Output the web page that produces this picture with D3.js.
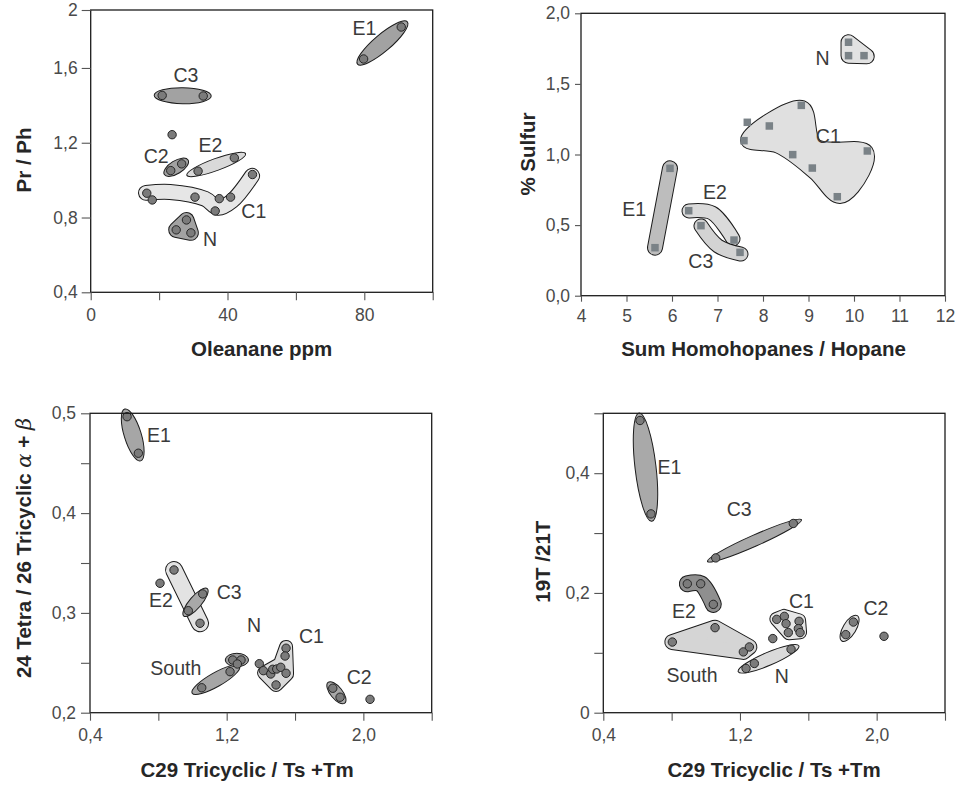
<!DOCTYPE html>
<html><head><meta charset="utf-8">
<script src="https://cdn.jsdelivr.net/npm/d3@7/dist/d3.min.js"></script>
<style>
html,body{margin:0;padding:0;background:#fff;}
svg{display:block;}
</style></head>
<body>
<svg id="chart" width="959" height="786"></svg>
<script>
// ---------- Panel 1: Pr/Ph vs Oleanane ppm ----------
const p1Points = [
  [79.8,1.648,"E1"],[90.8,1.819,"E1"],
  [20.9,1.453,"C3"],[32.9,1.450,"C3"],
  [23.8,1.243,""],
  [23.4,1.051,"C2"],[26.6,1.087,"C2"],
  [31.4,1.048,"E2"],[42.0,1.119,"E2"],
  [16.4,0.930,"C1"],[18.0,0.894,"C1"],[30.5,0.909,"C1"],[37.6,0.901,"C1"],
  [40.9,0.909,"C1"],[36.4,0.835,"C1"],[47.3,1.030,"C1"],
  [28.0,0.787,"N"],[25.0,0.734,"N"],[29.3,0.718,"N"]
];
const p1Envelopes = [
  {g:"E1", kind:"ellipse", path:[[79.8,1.648],[90.8,1.819]]},
  {g:"C3", kind:"ellipse", path:[[20.9,1.453],[32.9,1.450]]},
  {g:"C2", kind:"ellipse", path:[[23.4,1.051],[26.6,1.087]]},
  {g:"E2", kind:"ellipse", path:[[31.4,1.048],[42.0,1.119]]},
  {g:"C1", kind:"band", smooth:true, path:[[16.18,0.932],[23.2,0.937],[33.45,0.900],[37.25,0.852],[41.35,0.889],[47.19,1.023]]},
  {g:"N",  kind:"blob", path:[[28.0,0.787],[25.0,0.734],[29.3,0.718]]}
];
const p1Labels = [
  {t:"E1",x:80.03,y:1.778},{t:"C3",x:27.83,y:1.523},{t:"E2",x:35.0,y:1.153},
  {t:"C2",x:19.17,y:1.091},{t:"C1",x:47.7,y:0.796},{t:"N",x:34.91,y:0.648}
];
const p1XTicks = [0,20,40,60,80,100];
const p1XTickLabels = ["0","","40","","80",""];
const p1YTicks = [0.4,0.8,1.2,1.6,1.91];
const p1YTickLabels = ["0,4","0,8","1,2","1,6","2"];

// ---------- Panel 2: % Sulfur vs Sum Homohopanes / Hopane ----------
const p2Points = [
  [9.88,1.795,"N"],[9.88,1.700,"N"],[10.22,1.700,"N"],
  [7.655,1.228,""],[8.139,1.202,"C1"],[8.842,1.348,"C1"],[7.582,1.098,"C1"],
  [8.653,0.999,"C1"],[9.084,0.904,"C1"],[9.633,0.701,"C1"],[10.293,1.025,"C1"],
  [5.956,0.902,"E1"],[5.626,0.340,"E1"],
  [6.367,0.602,"E2"],[7.363,0.394,"E2"],
  [6.637,0.496,"C3"],[7.495,0.307,"C3"]
];
const p2Envelopes = [
  {g:"N",  kind:"blob", path:[[9.88,1.795],[9.88,1.70],[10.28,1.695]]},
  {g:"C1", kind:"blob", smooth:true, path:[[7.67,1.103],[8.857,1.329],[9.143,1.060],[10.26,1.018],[10.18,0.876],[9.69,0.706],[9.14,0.876],[8.35,1.060]]},
  {g:"E1", kind:"band", path:[[5.956,0.902],[5.626,0.340]]},
  {g:"E2", kind:"band", smooth:true, path:[[6.374,0.600],[6.879,0.586],[7.341,0.402]]},
  {g:"C3", kind:"band", smooth:true, path:[[6.637,0.494],[7.011,0.352],[7.516,0.295]]}
];
const p2Labels = [
  {t:"N",x:9.308,y:1.634},{t:"C1",x:9.435,y:1.079},{t:"E1",x:5.169,y:0.564},
  {t:"E2",x:6.945,y:0.685},{t:"C3",x:6.633,y:0.198}
];
const p2XTicks = [4,5,6,7,8,9,10,11,12];
const p2XTickLabels = ["4","5","6","7","8","9","10","11","12"];
const p2YTicks = [0,0.5,1,1.5,2];
const p2YTickLabels = ["0,0","0,5","1,0","1,5","2,0"];

// ---------- Panel 3: 24 Tetra / 26 Tricyclic vs C29 Tricyclic / Ts+Tm ----------
const p3Points = [
  [0.617,0.4966,"E1"],[0.683,0.460,"E1"],
  [0.8098,0.3297,""],
  [0.8918,0.343,"E2"],[1.044,0.2896,"E2"],
  [0.9755,0.3022,"C3"],[1.0598,0.319,"C3"],
  [1.054,0.225,"South"],[1.2197,0.2411,"South"],
  [1.2355,0.2528,"N"],[1.284,0.2528,"N"],[1.2624,0.2488,"N"],
  [1.391,0.2491,""],
  [1.4146,0.2421,"C1"],[1.458,0.2388,"C1"],[1.4697,0.2435,"C1"],[1.493,0.2438,"C1"],
  [1.5165,0.2455,"C1"],[1.489,0.2278,"C1"],[1.5475,0.2646,"C1"],[1.5417,0.2568,"C1"],[1.5475,0.2395,"C1"],
  [1.821,0.2245,"C2"],[1.8637,0.2155,"C2"],
  [2.039,0.2134,""]
];
const p3Envelopes = [
  {g:"E1", kind:"ellipse", path:[[0.617,0.4966],[0.683,0.460]]},
  {g:"E2", kind:"band", path:[[0.8918,0.343],[1.044,0.2896]]},
  {g:"C3", kind:"ellipse", path:[[0.9755,0.3022],[1.0598,0.319]]},
  {g:"South", kind:"ellipse", path:[[1.054,0.225],[1.2197,0.2411]]},
  {g:"N",  kind:"ellipse", path:[[1.2355,0.2528],[1.284,0.2528]]},
  {g:"C1", kind:"blob", path:[[1.5475,0.2659],[1.5534,0.2388],[1.489,0.2278],[1.4187,0.2399],[1.512,0.2489]]},
  {g:"C2", kind:"ellipse", path:[[1.821,0.2245],[1.8637,0.2155]]}
];
const p3Labels = [
  {t:"E1",x:0.803,y:0.4709},{t:"E2",x:0.8145,y:0.3062},{t:"C3",x:1.215,y:0.3139},
  {t:"N",x:1.36,y:0.2812},{t:"C1",x:1.696,y:0.2696},{t:"South",x:0.902,y:0.2378},
  {t:"C2",x:1.976,y:0.2288}
];
const p3XTicks = [0.4,0.8,1.2,1.6,2.0,2.4];
const p3XTickLabels = ["0,4","","1,2","","2,0",""];
const p3YTicks = [0.2,0.25,0.3,0.35,0.4,0.45,0.5];
const p3YTickLabels = ["0,2","","0,3","","0,4","","0,5"];

// ---------- Panel 4: 19T/21T vs C29 Tricyclic / Ts+Tm ----------
const p4Points = [
  [0.615,0.488,"E1"],[0.679,0.332,"E1"],
  [1.058,0.2585,"C3"],[1.512,0.316,"C3"],
  [0.8918,0.2153,"E2"],[0.970,0.2153,"E2"],[1.044,0.1809,"E2"],
  [0.804,0.118,"South"],[1.054,0.142,"South"],[1.2197,0.1015,"South"],[1.255,0.1098,"South"],
  [1.2355,0.0739,"N"],[1.284,0.0822,"N"],[1.499,0.106,"N"],
  [1.392,0.1238,""],
  [1.415,0.1559,"C1"],[1.4597,0.1609,"C1"],[1.4697,0.1487,"C1"],[1.5458,0.1526,"C1"],
  [1.483,0.1338,"C1"],[1.5417,0.1404,"C1"],[1.5517,0.1338,"C1"],
  [1.819,0.1304,"C2"],[1.8637,0.1514,"C2"],
  [2.043,0.1276,""]
];
const p4Envelopes = [
  {g:"E1", kind:"ellipse", path:[[0.615,0.488],[0.679,0.332]]},
  {g:"C3", kind:"ellipse", path:[[1.058,0.2585],[1.512,0.316]]},
  {g:"E2", kind:"band", smooth:true, path:[[0.8918,0.2153],[0.970,0.2153],[1.044,0.1809]]},
  {g:"South", kind:"blob", path:[[0.804,0.118],[1.054,0.142],[1.255,0.1098],[1.2197,0.1015]]},
  {g:"N",  kind:"ellipse", path:[[1.2355,0.0739],[1.499,0.106]]},
  {g:"C1", kind:"blob", path:[[1.4129,0.1564],[1.458,0.1617],[1.5458,0.1542],[1.5517,0.1343],[1.4872,0.1326],[1.4462,0.1459]]},
  {g:"C2", kind:"ellipse", path:[[1.819,0.1304],[1.8637,0.1514]]}
];
const p4Labels = [
  {t:"E1",x:0.7876,y:0.3993},{t:"C3",x:1.1957,y:0.329},{t:"E2",x:0.8713,y:0.1587},
  {t:"C1",x:1.5593,y:0.1747},{t:"C2",x:1.9954,y:0.1626},{t:"South",x:0.9193,y:0.0516},
  {t:"N",x:1.4445,y:0.0489}
];
const p4XTicks = [0.4,0.8,1.2,1.6,2.0,2.4];
const p4XTickLabels = ["0,4","","1,2","","2,0",""];
const p4YTicks = [0,0.1,0.2,0.3,0.4,0.5];
const p4YTickLabels = ["0","","0,2","","0,4",""];

// ---------- envelope appearance (fill, half-width / ellipse extents in px) ----------
const DARK = "#a2a2a2";
const envelopeStyle = {
  "p1-E1":{fill:DARK, ext:8, ry:8.5}, "p1-C3":{fill:DARK, ext:8, ry:8},
  "p1-C2":{fill:DARK, ext:7.5, ry:6.5}, "p1-E2":{fill:"#d9d9d9", ext:12, ry:6},
  "p1-C1":{fill:"#e6e6e6", hw:7}, "p1-N":{fill:DARK, hw:7},
  "p2-N":{fill:"#e2e2e2", hw:7}, "p2-C1":{fill:"#e0e0e0", hw:7},
  "p2-E1":{fill:"#bdbdbd", hw:7}, "p2-E2":{fill:"#dadada", hw:6.5}, "p2-C3":{fill:"#d3d3d3", hw:6.5},
  "p3-E1":{fill:"#a6a6a6", ext:8, ry:8.5}, "p3-E2":{fill:"#e3e3e3", hw:8},
  "p3-C3":{fill:"#a8a8a8", ext:7, ry:6}, "p3-South":{fill:"#a6a6a6", ext:11, ry:7},
  "p3-N":{fill:"#9c9c9c", ext:7.5, ry:6.7}, "p3-C1":{fill:"#dadada", hw:6},
  "p3-C2":{fill:"#a8a8a8", ext:7.5, ry:6},
  "p4-E1":{fill:"#a9a9a9", ext:7.5, ry:10.5}, "p4-C3":{fill:"#a9a9a9", ext:9, ry:5.5},
  "p4-E2":{fill:"#8f8f8f", hw:7.5}, "p4-South":{fill:"#d5d5d5", hw:7},
  "p4-N":{fill:"#dadada", ext:8.5, ry:6.5}, "p4-C1":{fill:"#e6e6e6", hw:6},
  "p4-C2":{fill:"#dcdcdc", ext:7.5, ry:6.5}
};

const INK = "#1c1c1c";
const SANS = "'Liberation Sans', Arial, Helvetica, sans-serif";
const svg = d3.select("#chart");

const panels = [
  {id:"p1", points:p1Points, marker:"circle", envelopes:p1Envelopes, labels:p1Labels,
   xDomain:[0,100], yDomain:[0.4,1.91], box:{l:90.7,r:432.7,t:10,b:292.3},
   xTicks:p1XTicks, xTickLabels:p1XTickLabels, yTicks:p1YTicks, yTickLabels:p1YTickLabels,
   tick:{x:8,y:9}, pad:{x:8,y:4},
   xTitle:{text:"Oleanane ppm", cx:261.7, base:355.5},
   yTitle:{parts:[{t:"Pr / Ph"}], cy:160, base:31}},
  {id:"p2", points:p2Points, marker:"square", envelopes:p2Envelopes, labels:p2Labels,
   xDomain:[4,12], yDomain:[0,2], box:{l:581,r:945,t:13.3,b:295.7},
   xTicks:p2XTicks, xTickLabels:p2XTickLabels, yTicks:p2YTicks, yTickLabels:p2YTickLabels,
   tick:{x:6,y:6}, pad:{x:8,y:5},
   xTitle:{text:"Sum Homohopanes / Hopane", cx:763.5, base:355.5},
   yTitle:{parts:[{t:"% Sulfur"}], cy:154, base:534.5}},
  {id:"p3", points:p3Points, marker:"circle", envelopes:p3Envelopes, labels:p3Labels,
   xDomain:[0.4,2.4], yDomain:[0.2,0.5], box:{l:90,r:431.7,t:413.3,b:712.7},
   xTicks:p3XTicks, xTickLabels:p3XTickLabels, yTicks:p3YTicks, yTickLabels:p3YTickLabels,
   tick:{x:8,y:9}, pad:{x:8,y:5},
   xTitle:{text:"C29 Tricyclic / Ts +Tm", cx:247.2, base:776.5},
   yTitle:{parts:[{t:"24 Tetra / 26 Tricyclic "},{t:"\u03B1",greek:true},{t:" + "},{t:"\u03B2",greek:true}], cy:548, base:30.5}},
  {id:"p4", points:p4Points, marker:"circle", envelopes:p4Envelopes, labels:p4Labels,
   xDomain:[0.4,2.4], yDomain:[0,0.5], box:{l:603.3,r:945,t:413.3,b:712.7},
   xTicks:p4XTicks, xTickLabels:p4XTickLabels, yTicks:p4YTicks, yTickLabels:p4YTickLabels,
   tick:{x:8,y:9}, pad:{x:8,y:4.5},
   xTitle:{text:"C29 Tricyclic / Ts +Tm", cx:774.2, base:776.5},
   yTitle:{parts:[{t:"19T /21T"}], cy:561.7, base:549.5}}
];

function drawPanel(p) {
  const g = svg.append("g").attr("class", "panel " + p.id);
  const x = d3.scaleLinear().domain(p.xDomain).range([p.box.l, p.box.r]);
  const y = d3.scaleLinear().domain(p.yDomain).range([p.box.b, p.box.t]);

  // group envelopes
  const env = g.append("g").attr("class", "envelopes");
  p.envelopes.forEach(e => {
    const st = envelopeStyle[p.id + "-" + e.g];
    if (e.kind === "ellipse") {
      const a = [x(e.path[0][0]), y(e.path[0][1])];
      const b = [x(e.path[1][0]), y(e.path[1][1])];
      const cx = (a[0] + b[0]) / 2, cy = (a[1] + b[1]) / 2;
      const len = Math.hypot(b[0] - a[0], b[1] - a[1]);
      const ang = Math.atan2(b[1] - a[1], b[0] - a[0]) * 180 / Math.PI;
      env.append("ellipse")
        .attr("rx", len / 2 + st.ext).attr("ry", st.ry)
        .attr("transform", `translate(${cx},${cy}) rotate(${ang})`)
        .attr("fill", st.fill).attr("stroke", INK).attr("stroke-width", 1);
    } else {
      const closed = e.kind === "blob";
      const curve = closed
        ? (e.smooth ? d3.curveCatmullRomClosed.alpha(0.5) : d3.curveLinearClosed)
        : (e.smooth ? d3.curveCatmullRom.alpha(0.5) : d3.curveLinear);
      const line = d3.line().x(d => x(d[0])).y(d => y(d[1])).curve(curve);
      const d = line(e.path);
      const eg = env.append("g");
      eg.append("path").attr("d", d)
        .attr("fill", closed ? INK : "none").attr("stroke", INK)
        .attr("stroke-width", 2 * st.hw + 2)
        .attr("stroke-linejoin", "round").attr("stroke-linecap", "round");
      eg.append("path").attr("d", d)
        .attr("fill", closed ? st.fill : "none").attr("stroke", st.fill)
        .attr("stroke-width", 2 * st.hw)
        .attr("stroke-linejoin", "round").attr("stroke-linecap", "round");
    }
  });

  // samples
  const pts = g.append("g").attr("class", "points");
  if (p.marker === "square") {
    const s = 7.5;
    pts.selectAll("rect").data(p.points).join("rect")
      .attr("x", d => x(d[0]) - s / 2).attr("y", d => y(d[1]) - s / 2)
      .attr("width", s).attr("height", s)
      .attr("fill", "#7a8287");
  } else {
    pts.selectAll("circle").data(p.points).join("circle")
      .attr("cx", d => x(d[0])).attr("cy", d => y(d[1])).attr("r", 4.2)
      .attr("fill", "#7b7b7b").attr("stroke", "#262626").attr("stroke-width", 1);
  }

  // frame
  g.append("rect")
    .attr("x", p.box.l).attr("y", p.box.t)
    .attr("width", p.box.r - p.box.l).attr("height", p.box.b - p.box.t)
    .attr("fill", "none").attr("stroke", INK).attr("stroke-width", 1.3);

  // axes
  const xAxis = d3.axisBottom(x).tickValues(p.xTicks)
    .tickFormat((d, i) => p.xTickLabels[i]).tickSize(p.tick.x).tickPadding(p.pad.x);
  const yAxis = d3.axisLeft(y).tickValues(p.yTicks)
    .tickFormat((d, i) => p.yTickLabels[i]).tickSize(p.tick.y).tickPadding(p.pad.y);
  [[xAxis, `translate(0,${p.box.b})`], [yAxis, `translate(${p.box.l},0)`]].forEach(([ax, tr]) => {
    const ga = g.append("g").attr("transform", tr).call(ax)
      .attr("font-family", SANS).attr("font-size", 17.5);
    ga.select(".domain").remove();
    ga.selectAll(".tick line").attr("stroke", "#555").attr("stroke-width", 1.1);
    ga.selectAll(".tick text").attr("fill", "#4a4a4a");
  });

  // group labels
  g.append("g").selectAll("text").data(p.labels).join("text")
    .attr("x", d => x(d.x)).attr("y", d => y(d.y))
    .attr("text-anchor", "middle")
    .attr("font-family", SANS).attr("font-size", 19.5).attr("fill", "#3a3a3a")
    .text(d => d.t);

  // axis titles
  g.append("text")
    .attr("x", p.xTitle.cx).attr("y", p.xTitle.base)
    .attr("text-anchor", "middle")
    .attr("font-family", SANS).attr("font-size", 20.5).attr("font-weight", "bold")
    .attr("fill", "#262626")
    .text(p.xTitle.text);

  const yt = g.append("text")
    .attr("transform", `translate(${p.yTitle.base},${p.yTitle.cy}) rotate(-90)`)
    .attr("text-anchor", "middle")
    .attr("font-family", SANS).attr("font-size", 20.5).attr("font-weight", "bold")
    .attr("fill", "#262626");
  p.yTitle.parts.forEach(part => {
    const ts = yt.append("tspan").text(part.t);
    if (part.greek) {
      ts.attr("font-family", "'DejaVu Serif', serif").attr("font-style", "italic")
        .attr("font-weight", "normal").attr("font-size", 21);
    }
  });
}

panels.forEach(drawPanel);
</script>
</body></html>
